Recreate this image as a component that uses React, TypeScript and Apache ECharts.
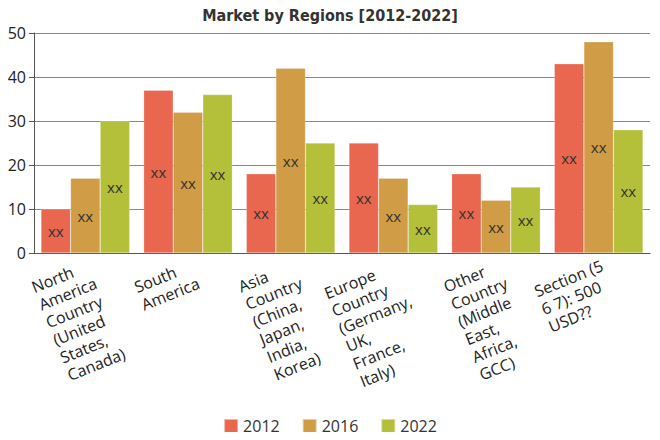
import React, { useEffect, useRef } from "react";
import * as echarts from "echarts";

const categories = [
  "North\nAmerica\nCountry\n(United\nStates,\nCanada)",
  "South\nAmerica",
  "Asia\nCountry\n(China,\nJapan,\nIndia,\nKorea)",
  "Europe\nCountry\n(Germany,\nUK,\nFrance,\nItaly)",
  "Other\nCountry\n(Middle\nEast,\nAfrica,\nGCC)",
  "Section (5\n6 7): 500\nUSD??",
];
const seriesNames = ["2012", "2016", "2022"];
const values2012 = [10, 37, 18, 25, 18, 43];
const values2016 = [17, 32, 42, 17, 12, 48];
const values2022 = [30, 36, 25, 11, 15, 28];
const colors = ["#e8674e", "#d09c46", "#b4bf3a"];
const FONT = "'Open Sans', 'Noto Sans', sans-serif";

export default function App() {
  const ref = useRef<HTMLDivElement>(null);
  useEffect(() => {
    if (!ref.current) return;
    const chart = echarts.init(ref.current, undefined, { renderer: "svg" });
    const data = [values2012, values2016, values2022];
    chart.setOption({
      animation: false,
      title: {
        text: "Market by Regions [2012-2022]",
        left: "center",
        top: 2,
        textStyle: {
          fontFamily: "'DejaVu Sans Condensed', 'DejaVu Sans', sans-serif",
          fontWeight: "bold",
          fontSize: 16,
          color: "#333",
        },
      },
      legend: {
        top: 418,
        left: "center",
        padding: [0, 5],
        itemWidth: 14,
        itemHeight: 14,
        itemGap: 22,
        icon: "rect",
        textStyle: { fontFamily: FONT, fontSize: 16, color: "#333" },
        data: seriesNames,
      },
      grid: { left: 34, right: 10, top: 33, bottom: 187 },
      xAxis: {
        type: "category",
        data: categories,
        axisLine: { lineStyle: { color: "#555" } },
        axisTick: { alignWithLabel: true, length: 5, lineStyle: { color: "#555" } },
        axisLabel: {
          interval: 0,
          rotate: 22,
          margin: 3,
          verticalAlign: "top",
          fontFamily: FONT,
          fontSize: 16,
          color: "#222",
          lineHeight: 19,
          formatter: (v: string) =>
            v
              .split("\n")
              .map((s) => `{l|${s}}`)
              .join("\n"),
          rich: {
            l: { align: "left", fontFamily: FONT, fontSize: 16, color: "#222", lineHeight: 19 },
          },
        },
      },
      yAxis: {
        type: "value",
        min: 0,
        max: 50,
        interval: 10,
        axisLine: { show: true, lineStyle: { color: "#555" } },
        axisTick: { show: true, length: 5, lineStyle: { color: "#555" } },
        splitLine: { lineStyle: { color: "#888" } },
        axisLabel: { fontFamily: FONT, fontSize: 16, color: "#222", margin: 8 },
      },
      series: seriesNames.map((name, i) => ({
        name,
        type: "bar",
        data: data[i],
        barGap: "0%",
        barCategoryGap: "13.6%",
        itemStyle: { color: colors[i], borderColor: "rgba(255,255,255,0.5)", borderWidth: 0.5 },
        label: {
          show: true,
          position: "inside",
          formatter: "xx",
          fontFamily: FONT,
          fontSize: 15,
          color: "#333",
        },
      })),
    });
    return () => chart.dispose();
  }, []);
  return <div ref={ref} style={{ width: 660, height: 440, margin: -8 }} />;
}
